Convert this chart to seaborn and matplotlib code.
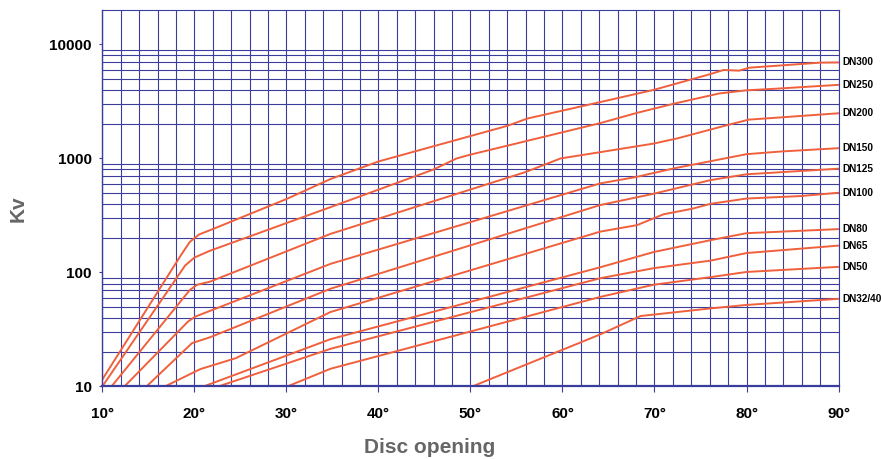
import pandas as pd
import seaborn as sns
import matplotlib.pyplot as plt
from matplotlib.ticker import FixedLocator, MultipleLocator, NullFormatter

dn300_deg = [10, 18.5, 19.5, 20.5, 22, 30, 34.8, 40, 54, 56.2, 64.1, 69.9, 76.1, 77.5, 79.2, 80.3, 88, 90]
dn300_kv = [11.5, 140, 185, 215, 240, 440, 660, 940, 1930, 2240, 3120, 3990, 5500, 5970, 5890, 6250, 6920, 6950]

dn250_deg = [10, 19, 20, 21.7, 34.8, 46, 48.5, 50, 64.1, 68.1, 72.1, 77, 80, 83, 90]
dn250_kv = [10, 115, 135, 155, 374, 800, 1000, 1080, 2040, 2510, 3020, 3710, 3960, 4080, 4420]

dn200_deg = [11, 19.5, 20.3, 21.7, 34.8, 56, 59.8, 64.1, 69.9, 72.5, 77.9, 80.25, 83.7, 90]
dn200_kv = [10, 70, 78, 83, 218, 760, 1000, 1135, 1350, 1500, 1960, 2190, 2290, 2490]

dn150_deg = [12.4, 19.3, 20.1, 21.7, 34.8, 64.1, 68.1, 72.1, 80, 83.7, 90]
dn150_kv = [10, 37, 41, 46, 119, 604, 690, 818, 1090, 1150, 1230]

dn125_deg = [14.8, 19.75, 21.7, 34.8, 64.1, 69.9, 76.1, 80, 90]
dn125_kv = [10, 24, 27, 72, 390, 490, 646, 726, 813]

dn100_deg = [16.8, 20.65, 24.5, 34.8, 64.1, 68.1, 71, 74.1, 76.1, 80, 85.9, 90]
dn100_kv = [10, 14.2, 17.7, 45, 228, 260, 324, 362, 400, 445, 468, 500]

dn80_deg = [21, 34.8, 64.1, 69.9, 76.1, 80, 90]
dn80_kv = [10, 26, 111, 151, 192, 221, 240]

dn65_deg = [22.6, 34.8, 64.1, 69.9, 76.1, 80, 90]
dn65_kv = [10, 21.4, 89, 109, 127, 148, 172]

dn50_deg = [30.1, 34.8, 64.1, 69.9, 76.1, 80, 90]
dn50_kv = [10, 14.3, 61, 78, 91, 101, 112]

dn32_deg = [50.2, 64.1, 68.5, 76.1, 80, 90]
dn32_kv = [10, 28.6, 41.5, 48.4, 51.9, 58.7]

curves = {
    'DN300': (dn300_deg, dn300_kv),
    'DN250': (dn250_deg, dn250_kv),
    'DN200': (dn200_deg, dn200_kv),
    'DN150': (dn150_deg, dn150_kv),
    'DN125': (dn125_deg, dn125_kv),
    'DN100': (dn100_deg, dn100_kv),
    'DN80': (dn80_deg, dn80_kv),
    'DN65': (dn65_deg, dn65_kv),
    'DN50': (dn50_deg, dn50_kv),
    'DN32/40': (dn32_deg, dn32_kv),
}

y_ticks = [10, 100, 1000, 10000]
x_ticks = [10, 20, 30, 40, 50, 60, 70, 80, 90]

rows = []
for name, (deg, kv) in curves.items():
    for a, k in zip(deg, kv):
        rows.append({'deg': a, 'kv': k, 'size': name})
df = pd.DataFrame(rows)

sns.set_style('white')
plt.rcParams['font.family'] = ['Liberation Sans', 'DejaVu Sans']

grid_c = '#3a3d9c'
line_c = '#f0603c'

fig = plt.figure(figsize=(8.81, 4.59), dpi=100)
ax = fig.add_axes([0.1161, 0.158, 0.8357, 0.820])

sns.lineplot(data=df, x='deg', y='kv', hue='size', palette={n: line_c for n in curves},
             estimator=None, sort=False, legend=False, linewidth=1.4, ax=ax)

ax.set_yscale('log')
ax.set_xlim(10, 90)
ax.set_ylim(10, 20000)
ax.set_axisbelow(True)

# axe y : graduations aux decades, grille sur 2..9
ax.yaxis.set_major_locator(FixedLocator(y_ticks))
ax.yaxis.set_minor_locator(FixedLocator([k * 10 ** n for n in range(1, 4) for k in range(2, 10)]))
ax.yaxis.set_minor_formatter(NullFormatter())
ax.set_yticklabels([str(v) for v in y_ticks], fontweight='bold')
ax.grid(which='minor', axis='y', color=grid_c, linewidth=0.8)

# axe x : tous les 2 degres
ax.xaxis.set_major_locator(FixedLocator(x_ticks))
ax.xaxis.set_minor_locator(MultipleLocator(2))
ax.set_xticklabels([f'{v}°' for v in x_ticks], fontweight='bold')
ax.grid(which='both', axis='x', color=grid_c, linewidth=0.8)

ax.tick_params(axis='x', which='major', length=4, width=0.8, color=grid_c, pad=11,
               labelsize=11, labelcolor='black')
ax.tick_params(axis='y', which='major', length=2.5, width=0.8, color=grid_c, pad=5,
               labelsize=11, labelcolor='black')
ax.tick_params(which='minor', length=0)
ax.tick_params(axis='both', which='major', direction='out', bottom=True, left=True)

for side, sp in ax.spines.items():
    sp.set_color(grid_c)
    sp.set_linewidth(0.8)
ax.spines['bottom'].set_linewidth(1.6)
ax.spines['left'].set_linewidth(1.0)

ax.set_xlabel('')
ax.set_ylabel('')

for name, (deg, kv) in curves.items():
    ax.text(90.45, kv[-1], name, fontsize=7.2, fontweight='bold', ha='left', va='center',
            color='black', clip_on=False)

fig.text(0.021, 0.545, 'Kv', rotation=90, fontsize=15, fontweight='bold', color='#666666',
         ha='center', va='center')
fig.text(0.488, 0.026, 'Disc opening', fontsize=15, fontweight='bold', color='#666666',
         ha='center', va='center')

fig.savefig('out.png', dpi=100)
